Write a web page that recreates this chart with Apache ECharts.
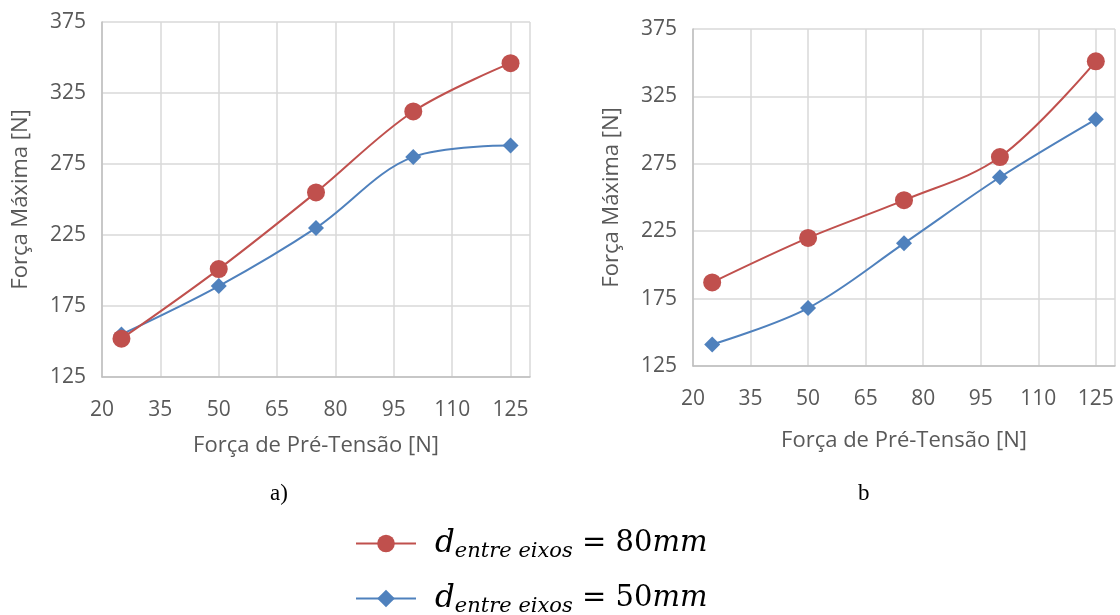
<!DOCTYPE html>
<html>
<head>
<meta charset="utf-8">
<script src="https://cdn.jsdelivr.net/npm/echarts@6/dist/echarts.min.js"></script>
<style>
  html, body { margin: 0; padding: 0; background: #fff; }
  #chart { width: 1120px; height: 615px; }
</style>
</head>
<body>
<div id="chart"></div>
<script>
// pré-tensão (N)
var preTensao = [25, 50, 75, 100, 125];
// gráfico a)
var a80 = [152, 201, 255, 312, 346];
var a50 = [155, 189, 230, 280, 288];
// gráfico b
var b80 = [187, 220, 248, 280, 351];
var b50 = [141, 168, 216, 265, 308];

var RED = '#C0504D', BLUE = '#4F81BD', GRAY = '#595959', GRID = '#d9d9d9';
var tickFont = 'Open Sans';

function pares(ys) {
    return preTensao.map(function (x, i) { return [x, ys[i]]; });
}

function eixoX(idx, gap, margem) {
    return {
        type: 'value', gridIndex: idx, min: 20, max: 130, interval: 15,
        name: 'Força de Pré-Tensão [N]', nameLocation: 'middle', nameGap: gap,
        nameTextStyle: { fontFamily: tickFont, fontSize: 22, color: GRAY },
        axisLine: { lineStyle: { color: '#bfbfbf', width: 1.5 } },
        axisTick: { show: false },
        axisLabel: { fontFamily: tickFont, fontSize: 21, color: GRAY, margin: margem, showMaxLabel: false },
        splitLine: { show: true, lineStyle: { color: GRID, width: 1.5 } }
    };
}
function eixoY(idx, gap) {
    return {
        type: 'value', gridIndex: idx, min: 125, max: 375, interval: 50,
        name: 'Força Máxima [N]', nameLocation: 'middle', nameGap: gap,
        nameTextStyle: { fontFamily: tickFont, fontSize: 22, color: GRAY },
        axisLine: { show: true, lineStyle: { color: '#bfbfbf', width: 1.5 } },
        axisTick: { show: false },
        axisLabel: { fontFamily: tickFont, fontSize: 21, color: GRAY, margin: 16 },
        splitLine: { show: true, lineStyle: { color: GRID, width: 1.5 } }
    };
}
function serie(nome, idx, ys) {
    var red = nome === '80';
    return {
        name: nome, type: 'line', xAxisIndex: idx, yAxisIndex: idx,
        data: pares(ys), smooth: 0.35,
        symbol: red ? 'circle' : 'diamond',
        symbolSize: red ? 18 : 16,
        lineStyle: { color: red ? RED : BLUE, width: 2 },
        itemStyle: { color: red ? RED : BLUE },
        z: red ? 3 : 2
    };
}
function legenda(nome, topo) {
    return {
        left: 350, top: topo, itemWidth: 60, itemHeight: 22,
        data: [nome],
        formatter: function (n) {
            return '{d|d}{s|entre eixos}{r| = ' + n + '}{m|mm}';
        },
        textStyle: {
            padding: [0, 0, 0, 14],
            rich: {
                d: { fontFamily: 'DejaVu Serif', fontStyle: 'italic', fontSize: 31, color: '#000', lineHeight: 38 },
                s: { fontFamily: 'DejaVu Serif', fontStyle: 'italic', fontSize: 21, color: '#000', padding: [17, 0, 0, 0] },
                r: { fontFamily: 'DejaVu Serif', fontSize: 29, color: '#000' },
                m: { fontFamily: 'DejaVu Serif', fontStyle: 'italic', fontSize: 29, color: '#000' }
            }
        }
    };
}

var chart = echarts.init(document.getElementById('chart'));
chart.setOption({
    animation: false,
    backgroundColor: '#fff',
    grid: [
        { left: 102, top: 22, width: 428, height: 355 },
        { left: 693, top: 29, width: 422, height: 337 }
    ],
    xAxis: [eixoX(0, 58, 23), eixoX(1, 64, 23)],
    yAxis: [eixoY(0, 70), eixoY(1, 70)],
    legend: [legenda('80', 523), legenda('50', 578)],
    graphic: [
        { type: 'text', left: 270, top: 482, style: { text: 'a)', font: '23px "Liberation Serif"', fill: '#000' } },
        { type: 'text', left: 858, top: 482, style: { text: 'b', font: '23px "Liberation Serif"', fill: '#000' } }
    ],
    series: [
        serie('50', 0, a50), serie('80', 0, a80),
        serie('50', 1, b50), serie('80', 1, b80)
    ]
});
</script>
</body>
</html>
